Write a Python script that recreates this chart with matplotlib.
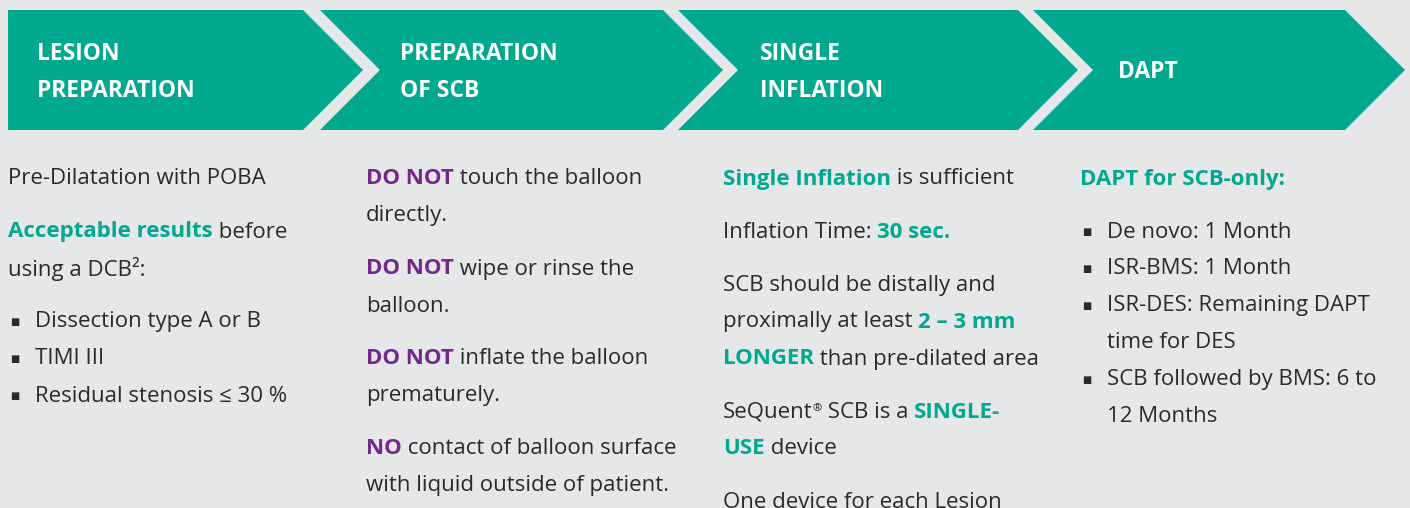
import matplotlib.pyplot as plt
from matplotlib.patches import Polygon

# colours
BG = '#E6E7E9'
TEAL = '#00A88E'
PURPLE = '#74288C'
INK = '#2B2A2A'
FONT = ['Open Sans', 'DejaVu Sans']

# step headers
steps = [['LESION', 'PREPARATION'], ['PREPARATION', 'OF SCB'], ['SINGLE', 'INFLATION'], ['DAPT']]

# body text: column -> paragraphs -> lines; line = (bullet, [(text, style), ...])
# styles: n = normal, t = bold teal, p = bold purple, s = superscript
col1 = [
    [(False, [('Pre-Dilatation with POBA', 'n')])],
    [(False, [('Acceptable results', 't'), (' before', 'n')]),
     (False, [('using a DCB²:', 'n')])],
    [(True, [('Dissection type A or B', 'n')]),
     (True, [('TIMI III', 'n')]),
     (True, [('Residual stenosis ≤ 30 %', 'n')])],
]
col2 = [
    [(False, [('DO NOT', 'p'), (' touch the balloon', 'n')]),
     (False, [('directly.', 'n')])],
    [(False, [('DO NOT', 'p'), (' wipe or rinse the', 'n')]),
     (False, [('balloon.', 'n')])],
    [(False, [('DO NOT', 'p'), (' inflate the balloon', 'n')]),
     (False, [('prematurely.', 'n')])],
    [(False, [('NO', 'p'), (' contact of balloon surface', 'n')]),
     (False, [('with liquid outside of patient.', 'n')])],
]
col3 = [
    [(False, [('Single Inflation', 't'), (' is sufficient', 'n')])],
    [(False, [('Inflation Time: ', 'n'), ('30 sec.', 't')])],
    [(False, [('SCB should be distally and', 'n')]),
     (False, [('proximally at least ', 'n'), ('2 – 3 mm', 't')]),
     (False, [('LONGER', 't'), (' than pre-dilated area', 'n')])],
    [(False, [('SeQuent', 'n'), ('®', 's'), (' SCB is a ', 'n'), ('SINGLE-', 't')]),
     (False, [('USE', 't'), (' device', 'n')])],
    [(False, [('One device for each Lesion', 'n')])],
]
col4 = [
    [(False, [('DAPT for SCB-only:', 't')])],
    [(True, [('De novo: 1 Month', 'n')]),
     (True, [('ISR-BMS: 1 Month', 'n')]),
     (True, [('ISR-DES: Remaining DAPT', 'n')]),
     (False, [('time for DES', 'n')]),
     (True, [('SCB followed by BMS: 6 to', 'n')]),
     (False, [('12 Months', 'n')])],
]
columns = [col1, col2, col3, col4]

# layout (pixels)
W, H = 1410, 508
band_top, band_bot = 10, 130
shape_left = [8, 320, 678, 1033]
shape_right = [303, 663, 1018, 1345]
depth = 60
head_x = [37, 400, 760, 1118]
col_x = [8, 366, 723, 1080]
BODY = 16
HEAD = 16.5

STYLES = {
    'n': dict(color=INK, fontsize=BODY),
    't': dict(color=TEAL, fontsize=BODY, fontweight='bold'),
    'p': dict(color=PURPLE, fontsize=BODY, fontweight='bold'),
    's': dict(color=INK, fontsize=BODY * 0.5),
}

fig = plt.figure(figsize=(W / 100, H / 100), dpi=100)
fig.patch.set_facecolor(BG)
ax = fig.add_axes([0, 0, 1, 1])
ax.set_xlim(0, W)
ax.set_ylim(H, 0)
ax.axis('off')

mid = (band_top + band_bot) / 2
for i, (L, R) in enumerate(zip(shape_left, shape_right)):
    pts = [(L, band_top), (R, band_top), (R + depth, mid), (R, band_bot), (L, band_bot)]
    if i > 0:
        pts.append((L + depth, mid))
    ax.add_patch(Polygon(pts, closed=True, facecolor=TEAL, edgecolor='none'))
    lines = steps[i]
    ys = [mid + 2] if len(lines) == 1 else [mid - 16, mid + 21]
    for txt, y in zip(lines, ys):
        ax.text(head_x[i], y, txt, color='white', fontsize=HEAD, fontweight='bold',
                family=FONT, va='center', ha='left')


def draw_line(x, y, segs):
    first = prev = None
    for s, style in segs:
        kw = STYLES[style]
        if first is None:
            first = prev = ax.text(x, y, s, va='center', ha='left', family=FONT, **kw)
        elif style == 's':
            prev = ax.annotate(s, xy=(1, 0.92), xycoords=(prev, first), va='top', ha='left',
                               family=FONT, **kw)
        else:
            prev = ax.annotate(s, xy=(1, 0), xycoords=(prev, first), va='bottom', ha='left',
                               family=FONT, **kw)


line_step, para_gap = 37, 16
for x, col in zip(col_x, columns):
    y = 179
    for paragraph in col:
        for bullet, segs in paragraph:
            if any(b for b, _ in paragraph):
                if bullet:
                    ax.text(x + 2, y, '■', fontsize=7, color=INK, va='center', ha='left',
                            family='DejaVu Sans')
                draw_line(x + 27, y, segs)
            else:
                draw_line(x, y, segs)
            y += line_step
        y += para_gap

fig.savefig('out.png', dpi=100, facecolor=BG)
